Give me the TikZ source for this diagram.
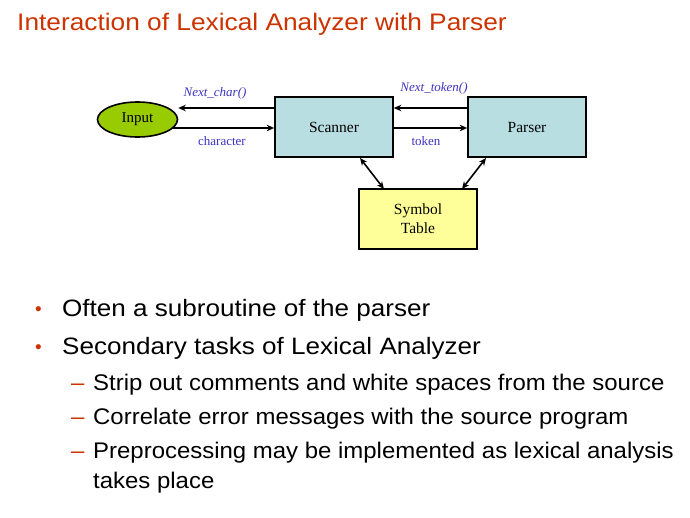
\documentclass[tikz,border=0pt]{standalone}
\usepackage{fontspec}
\setmainfont{Liberation Sans}
\newfontfamily\slidefont[FakeStretch=1.1]{Liberation Sans}
\newfontfamily\subfont[FakeStretch=1.06]{Liberation Sans}
\newfontfamily\serifdiag{Liberation Serif}
\usetikzlibrary{arrows.meta,shapes.geometric}
\definecolor{titleorange}{RGB}{204,51,0}
\definecolor{boxblue}{RGB}{184,222,226}
\definecolor{inputgreen}{RGB}{153,204,0}
\definecolor{symyellow}{RGB}{255,255,153}
\definecolor{labelblue}{RGB}{60,50,190}
\tikzset{
  blockbox/.style={draw=black, line width=1.6pt, minimum width=118pt, minimum height=60pt, inner sep=0pt, font=\serifdiag\fontsize{15.5}{19}\selectfont, align=center},
  flow/.style={line width=1.6pt, -{Stealth[length=7.5pt,width=6.5pt]}},
  both/.style={line width=1.6pt, {Stealth[length=7.5pt,width=6.5pt]}-{Stealth[length=7.5pt,width=6.5pt]}},
  lbl/.style={font=\serifdiag\fontsize{13}{15}\selectfont, text=labelblue, inner sep=0pt},
  lbli/.style={lbl, font=\serifdiag\itshape\fontsize{13}{15}\selectfont},
  txt/.style={anchor=base west, inner sep=0pt},
  bulletmark/.style={anchor=base west, inner sep=0pt, text=titleorange},
}
\begin{document}
\begin{tikzpicture}[x=1pt,y=-1pt]
\useasboundingbox (0,0) rectangle (690,517);
\node[txt, text=titleorange, font=\slidefont\fontsize{23.9}{27}\selectfont] (title) at (17,30) {Interaction of Lexical Analyzer with Parser};

\node[ellipse, draw=black, line width=1.6pt, fill=inputgreen, minimum width=80pt, minimum height=35pt, inner sep=0pt, font=\serifdiag\fontsize{15}{18}\selectfont] (input) at (137.5,119.5) {Input};
\node[blockbox, fill=boxblue] (scanner) at (334,127) {Scanner};
\node[blockbox, fill=boxblue] (parser) at (527,127) {Parser};
\node[blockbox, fill=symyellow] (symtab) at (418,219) {Symbol\\Table};

\draw[flow] (scanner.west |- 0,108) -- (input.east |- 0,108);
\draw[flow] (172,128) -- (scanner.west |- 0,128);
\draw[flow] (parser.west |- 0,108) -- (scanner.east |- 0,108);
\draw[flow] (scanner.east |- 0,128) -- (parser.west |- 0,128);
\draw[both] (360,158) -- (384,189);
\draw[both] (486,158) -- (462,189);

\node[lbli] (nc) at (215,93) {Next\_char()};
\node[lbl] (ch) at (222,141) {character};
\node[lbli] (nt) at (434,88) {Next\_token()};
\node[lbl] (tk) at (426,141) {token};

\begin{scope}[font=\slidefont\fontsize{23.7}{28}\selectfont]
\node[bulletmark, font=\fontsize{19}{20}\selectfont] (b1) at (35,315) {•};
\node[txt] (t1) at (62,316) {Often a subroutine of the parser};
\node[bulletmark, font=\fontsize{19}{20}\selectfont] (b2) at (35,353) {•};
\node[txt] (t2) at (62,354) {Secondary tasks of Lexical Analyzer};
\end{scope}
\begin{scope}[font=\subfont\fontsize{22.6}{26}\selectfont]
\node[bulletmark] (d1) at (71,390) {–};
\node[txt] (s1) at (93,390) {Strip out comments and white spaces from the source};
\node[bulletmark] (d2) at (71,424) {–};
\node[txt] (s2) at (93,424) {Correlate error messages with the source program};
\node[bulletmark] (d3) at (71,458) {–};
\node[txt] (s3) at (93,458) {Preprocessing may be implemented as lexical analysis};
\node[txt] (s4) at (93,488) {takes place};
\end{scope}
\end{tikzpicture}
\end{document}
